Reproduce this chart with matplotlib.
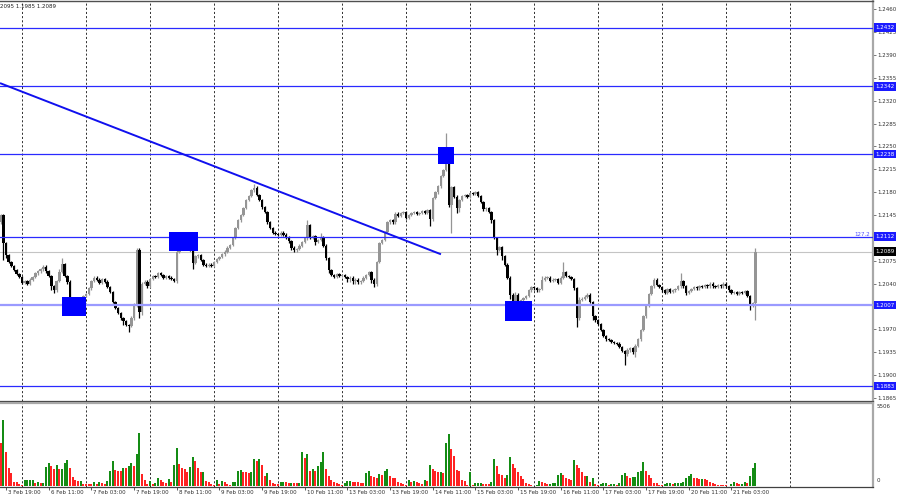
import matplotlib
matplotlib.use("Agg")
import matplotlib.pyplot as plt
import numpy as np
from matplotlib.transforms import blended_transform_factory, ScaledTranslation

plt.rcParams['lines.scale_dashes'] = False
plt.rcParams['font.family'] = ['DejaVu Sans']

# ---------------- data (GBPUSD H1) ----------------
first_index = -2          # bar index of the first visible candle (3 Feb 17:00)
first_open = 1.2134

closes = [
    1.2145, 1.2102, 1.2084, 1.2073, 1.2067, 1.2061, 1.2055, 1.2050, 1.2041, 1.2044,
    1.2040, 1.2046, 1.2050, 1.2056, 1.2059, 1.2062, 1.2066, 1.2059, 1.2052, 1.2036,
    1.2030, 1.2044, 1.2058, 1.2070, 1.2052, 1.2043, 1.2018, 1.2010, 1.2007, 1.2013,
    1.2018, 1.2021, 1.2024, 1.2033, 1.2044, 1.2049, 1.2046, 1.2041, 1.2047, 1.2043,
    1.2035, 1.2027, 1.2012, 1.2003, 1.1995, 1.1987, 1.1983, 1.1977, 1.1975, 1.1987,
    1.2007, 1.2092, 1.1997, 1.2040, 1.2043, 1.2036, 1.2047, 1.2052, 1.2050, 1.2056,
    1.2053, 1.2049, 1.2052, 1.2049, 1.2047, 1.2044, 1.2089, 1.2101, 1.2098, 1.2104,
    1.2095, 1.2092, 1.2072, 1.2082, 1.2084, 1.2076, 1.2069, 1.2067, 1.2069, 1.2067,
    1.2073, 1.2078, 1.2081, 1.2085, 1.2089, 1.2095, 1.2099, 1.2110, 1.2125, 1.2137,
    1.2145, 1.2156, 1.2168, 1.2174, 1.2183, 1.2186, 1.2176, 1.2168, 1.2157, 1.2150,
    1.2134, 1.2125, 1.2118, 1.2116, 1.2115, 1.2118, 1.2115, 1.2111, 1.2105, 1.2095,
    1.2092, 1.2093, 1.2098, 1.2104, 1.2110, 1.2130, 1.2110, 1.2113, 1.2104, 1.2107,
    1.2111, 1.2098, 1.2079, 1.2061, 1.2053, 1.2050, 1.2055, 1.2052, 1.2053, 1.2050,
    1.2047, 1.2049, 1.2044, 1.2046, 1.2043, 1.2044, 1.2049, 1.2053, 1.2058, 1.2046,
    1.2040, 1.2073, 1.2102, 1.2107, 1.2119, 1.2134, 1.2137, 1.2134, 1.2147, 1.2144,
    1.2148, 1.2150, 1.2141, 1.2145, 1.2148, 1.2150, 1.2147, 1.2148, 1.2151, 1.2148,
    1.2153, 1.2139, 1.2171, 1.2180, 1.2189, 1.2205, 1.2214, 1.2223, 1.2160, 1.2188,
    1.2173, 1.2156, 1.2168, 1.2174, 1.2176, 1.2173, 1.2179, 1.2177, 1.2180, 1.2174,
    1.2165, 1.2154, 1.2156, 1.2150, 1.2137, 1.2110, 1.2092, 1.2096, 1.2082, 1.2069,
    1.2049, 1.2023, 1.2000, 1.2023, 1.1995, 1.2015, 1.2018, 1.2021, 1.2030, 1.2035,
    1.2033, 1.2030, 1.2032, 1.2046, 1.2049, 1.2049, 1.2044, 1.2046, 1.2047, 1.2041,
    1.2049, 1.2058, 1.2052, 1.2050, 1.2047, 1.2033, 1.1987, 1.2015, 1.2017, 1.2020,
    1.2023, 1.2012, 1.1990, 1.1984, 1.1978, 1.1969, 1.1960, 1.1955, 1.1954, 1.1951,
    1.1949, 1.1948, 1.1943, 1.1937, 1.1932, 1.1938, 1.1941, 1.1935, 1.1945, 1.1955,
    1.1969, 1.1990, 1.2007, 1.2024, 1.2036, 1.2046, 1.2038, 1.2035, 1.2030, 1.2026,
    1.2032, 1.2027, 1.2030, 1.2032, 1.2036, 1.2044, 1.2036, 1.2026, 1.2029, 1.2032,
    1.2035, 1.2033, 1.2036, 1.2035, 1.2038, 1.2036, 1.2040, 1.2036, 1.2035, 1.2038,
    1.2036, 1.2040, 1.2036, 1.2030, 1.2026, 1.2027, 1.2024, 1.2027, 1.2026, 1.2029,
    1.2021, 1.2007, 1.2010, 1.2089,
]

upper_wick_pips = [
    2, 2, 2, 2, 2, 2, 2, 2, 2, 2,
    2, 2, 2, 2, 2, 2, 2, 2, 2, 2,
    2, 2, 4, 9, 2, 2, 2, 2, 2, 2,
    2, 2, 2, 2, 2, 2, 2, 2, 2, 2,
    2, 2, 2, 2, 2, 2, 2, 2, 2, 4,
    3, 3, 2, 2, 2, 2, 2, 2, 2, 2,
    2, 2, 2, 2, 2, 2, 3, 4, 2, 2,
    2, 2, 2, 2, 2, 2, 2, 2, 2, 2,
    2, 2, 2, 2, 2, 2, 2, 2, 2, 2,
    2, 2, 2, 2, 2, 6, 3, 2, 2, 2,
    2, 2, 2, 2, 2, 2, 2, 2, 2, 2,
    2, 2, 2, 2, 2, 8, 2, 2, 2, 2,
    6, 2, 2, 2, 2, 2, 2, 2, 2, 2,
    2, 2, 2, 2, 2, 2, 2, 2, 2, 2,
    2, 2, 2, 2, 2, 2, 2, 2, 2, 2,
    2, 2, 2, 2, 2, 2, 2, 2, 2, 2,
    2, 2, 2, 2, 2, 2, 2, 48, 2, 2,
    2, 2, 2, 2, 2, 2, 2, 2, 2, 2,
    2, 2, 2, 2, 2, 2, 2, 2, 2, 2,
    2, 2, 2, 4, 2, 2, 2, 2, 2, 2,
    2, 2, 2, 5, 2, 2, 2, 2, 2, 2,
    2, 15, 2, 2, 2, 2, 2, 4, 2, 2,
    2, 3, 2, 2, 2, 2, 2, 2, 2, 2,
    2, 2, 2, 2, 2, 4, 2, 2, 2, 2,
    2, 2, 2, 2, 2, 2, 2, 2, 2, 2,
    2, 2, 2, 2, 2, 12, 2, 2, 2, 2,
    2, 2, 2, 2, 2, 2, 2, 2, 2, 2,
    2, 2, 2, 2, 2, 2, 2, 2, 2, 2,
    2, 2, 2, 6,
]

lower_wick_pips = [
    2, 25, 4, 2, 2, 2, 2, 2, 2, 2,
    2, 2, 2, 2, 2, 2, 2, 2, 2, 5,
    5, 2, 2, 2, 2, 4, 6, 5, 8, 2,
    2, 2, 2, 2, 2, 2, 2, 2, 2, 2,
    2, 2, 2, 2, 2, 2, 6, 2, 9, 2,
    2, 2, 9, 5, 2, 2, 2, 2, 2, 2,
    2, 2, 2, 2, 2, 2, 3, 2, 2, 2,
    2, 2, 9, 2, 3, 2, 2, 2, 2, 2,
    2, 2, 2, 2, 2, 2, 2, 2, 2, 2,
    2, 2, 2, 2, 2, 2, 2, 2, 2, 2,
    2, 2, 2, 2, 2, 2, 2, 2, 2, 4,
    4, 4, 2, 2, 2, 3, 2, 2, 5, 2,
    2, 2, 2, 4, 2, 2, 2, 2, 2, 2,
    4, 4, 4, 4, 4, 4, 2, 2, 2, 5,
    5, 3, 2, 2, 2, 2, 2, 2, 2, 2,
    2, 2, 2, 2, 2, 2, 2, 2, 2, 2,
    2, 10, 3, 2, 2, 2, 2, 2, 3, 42,
    2, 8, 6, 2, 2, 2, 2, 2, 2, 2,
    2, 2, 2, 2, 4, 2, 8, 2, 5, 2,
    2, 6, 13, 2, 6, 2, 2, 2, 2, 2,
    2, 2, 2, 2, 2, 2, 2, 2, 2, 2,
    2, 2, 2, 2, 2, 2, 13, 2, 2, 2,
    2, 2, 5, 2, 2, 2, 2, 2, 2, 2,
    2, 2, 2, 2, 16, 2, 2, 2, 8, 2,
    2, 2, 2, 2, 2, 2, 2, 2, 2, 2,
    2, 2, 2, 2, 2, 2, 2, 4, 2, 2,
    2, 2, 2, 2, 2, 2, 2, 2, 2, 2,
    2, 2, 2, 2, 2, 2, 2, 2, 2, 2,
    2, 8, 2, 25,
]

volumes = [
    2850, 4350, 2230, 1220, 860, 265, 243, 155, 88, 376,
    380, 390, 420, 200, 290, 200, 210, 1260, 1550, 1300,
    1150, 1370, 1100, 1130, 1520, 1700, 1215, 600, 420, 330,
    340, 155, 150, 140, 130, 240, 155, 290, 200, 155,
    310, 970, 1635, 1080, 1015, 970, 1215, 1170, 1350, 1525,
    1300, 2145, 3515, 775, 420, 155, 330, 155, 200, 510,
    375, 290, 200, 485, 245, 1390, 2540, 1435, 1170, 1105,
    930, 1260, 1920, 1635, 1215, 930, 940, 330, 245, 135,
    90, 420, 155, 330, 245, 110, 66, 245, 290, 995,
    1080, 950, 905, 890, 930, 1790, 1635, 1810, 1370, 640,
    860, 375, 220, 135, 110, 245, 250, 240, 220, 230,
    200, 175, 200, 2230, 1835, 2100, 995, 1130, 970, 1300,
    1570, 2230, 1105, 685, 420, 265, 200, 155, 66, 200,
    330, 340, 290, 280, 245, 200, 190, 860, 1015, 665,
    620, 550, 820, 750, 1015, 1150, 665, 510, 500, 245,
    200, 110, 66, 375, 245, 310, 290, 175, 155, 420,
    330, 1390, 1130, 995, 905, 915, 860, 2850, 3470, 2455,
    2010, 1040, 1015, 420, 330, 90, 905, 90, 200, 220,
    230, 155, 150, 110, 245, 1790, 1350, 775, 750, 530,
    730, 1945, 1435, 1170, 905, 640, 465, 175, 155, 66,
    22, 90, 310, 290, 200, 110, 120, 200, 220, 705,
    885, 730, 510, 485, 420, 1700, 1370, 1170, 905, 665,
    685, 290, 550, 110, 66, 110, 220, 230, 90, 155,
    160, 90, 200, 705, 840, 665, 550, 620, 630, 905,
    1015, 1570, 1015, 705, 510, 220, 175, 90, 45, 110,
    175, 180, 135, 200, 205, 210, 290, 510, 665, 775,
    550, 540, 465, 485, 440, 420, 245, 175, 110, 66,
    45, 40, 35, 30, 110, 245, 200, 155, 160, 265,
    200, 640, 1170, 1525,
]

time_labels = ["3 Feb 19:00", "6 Feb 11:00", "7 Feb 03:00", "7 Feb 19:00",
               "8 Feb 11:00", "9 Feb 03:00", "9 Feb 19:00", "10 Feb 11:00",
               "13 Feb 03:00", "13 Feb 19:00", "14 Feb 11:00", "15 Feb 03:00",
               "15 Feb 19:00", "16 Feb 11:00", "17 Feb 03:00", "17 Feb 19:00",
               "20 Feb 11:00", "21 Feb 03:00"]
time_label_bars = [0, 16, 32, 48, 64, 80, 96, 112, 128, 144, 160, 176,
                   192, 208, 224, 240, 256, 272]

# price-scale ticks; 1.2110 and 1.2005 sit under level tags and are not shown
price_ticks = [1.2460, 1.2425, 1.2390, 1.2355, 1.2320, 1.2285, 1.2250, 1.2215,
               1.2180, 1.2145, 1.2110, 1.2075, 1.2040, 1.2005, 1.1970, 1.1935,
               1.1900, 1.1865]
hidden_ticks = [1.2110, 1.2005]
levels = [1.2432, 1.2342, 1.2238, 1.2112, 1.2007, 1.1883]
bid_price = 1.2089
fib_level = 1.2112
fib_text = "127.2"
trend_bars = [-2.25, 163.1]
trend_prices = [1.2347, 1.2085]
# marker rectangles: (bar from, bar to, price low, price high)
zones = [(21.1, 30.0, 1.1990, 1.2020), (61.1, 72.0, 1.2090, 1.2119),
         (162.0, 168.0, 1.2223, 1.2249), (187.0, 197.1, 1.1983, 1.2013)]
header_text = "2095 1.1985 1.2089"
volume_max_label = "5506"
volume_zero_label = "0"

# ---------------- figure ----------------
W, H = 900, 500
fig = plt.figure(figsize=(9, 5), dpi=100, facecolor='white')
ax = fig.add_axes([0, 1 - 401 / H, 873 / W, 400 / H])
axv = fig.add_axes([0, 1 - 487 / H, 873 / W, 84 / H])

x = np.arange(first_index, first_index + len(closes))
c = np.array(closes)
o = np.concatenate([[first_open], c[:-1]])
hi = np.maximum(o, c) + np.array(upper_wick_pips) * 0.0001
lo = np.minimum(o, c) - np.array(lower_wick_pips) * 0.0001
up = c >= o
bull_col, bear_col = '#959595', '#000000'
cols = np.where(up, bull_col, bear_col)

xlim = (-2.25, 325.1)
ylim = (1.18604, 1.24727)

# grid (vertical dotted)
grid_bars = np.arange(6, 300, 24)
for a in (ax, axv):
    for g in grid_bars:
        a.axvline(g, color='#303030', lw=0.7, ls=(0, (1.5, 1.5)), zorder=0.5)

# candles
ax.vlines(x, lo, hi, colors=cols, lw=0.9, zorder=2)
body_h = np.maximum(np.abs(c - o), 0.00014)
ax.bar(x, body_h, bottom=np.minimum(o, c), width=0.88, color=cols,
       edgecolor='none', zorder=3)

# horizontal levels
for lv in levels:
    if abs(lv - 1.2007) < 1e-6:
        ax.axhline(lv, color='#9a9aff', lw=1.6, zorder=4)
    else:
        ax.axhline(lv, color='#2a2aff', lw=0.9, zorder=4)
ax.axhline(bid_price, color='#c4c4c4', lw=0.8, zorder=1.5)

# trendline
ax.plot(trend_bars, trend_prices, color='#1010ee', lw=1.4, zorder=5,
        solid_capstyle='butt')

# zones
for b0, b1, p0, p1 in zones:
    ax.add_patch(plt.Rectangle((b0, p0), b1 - b0, p1 - p0, facecolor='#0000ff',
                               edgecolor='none', zorder=6))

ax.set_xlim(*xlim)
ax.set_ylim(*ylim)
ax.set_xticks([])
ax.yaxis.tick_right()
ax.set_yticks(price_ticks)
ax.set_yticklabels(["" if any(abs(p - h) < 1e-6 for h in hidden_ticks)
                    else f"{p:.4f}" for p in price_ticks])
ax.tick_params(axis='y', length=2, width=0.6, color='#606060', pad=1.2,
               labelsize=4, labelcolor='#303030')
ax.spines['left'].set_visible(False)
ax.spines['top'].set_color('#505050')
ax.spines['top'].set_linewidth(1.0)
ax.spines['bottom'].set_color('#404040')
ax.spines['bottom'].set_linewidth(0.9)
ax.spines['right'].set_color('#a8a8a8')
ax.spines['right'].set_linewidth(1.6)

# right-side price tags
tag_tr = blended_transform_factory(ax.transAxes, ax.transData) + \
    ScaledTranslation(2.5 / 100, 0, fig.dpi_scale_trans)
for lv in levels:
    ax.text(1.0, lv, f"{lv:.4f}", transform=tag_tr, ha='left', va='center',
            fontsize=4, color='white', clip_on=False, zorder=10,
            bbox=dict(boxstyle='square,pad=0.3', fc='#1a1aff', ec='none'))
ax.text(1.0, bid_price, f"{bid_price:.4f}", transform=tag_tr, ha='left',
        va='center', fontsize=4, color='white', clip_on=False, zorder=10,
        bbox=dict(boxstyle='square,pad=0.3', fc='#000000', ec='none'))

# fib label
ax.text(870 / 873, fib_level + 0.0004, fib_text,
        transform=blended_transform_factory(ax.transAxes, ax.transData),
        ha='right', va='center', fontsize=4, color='#5050ff', zorder=7)

# header
ax.text(0.0, (401 - 7) / 400, header_text, transform=ax.transAxes,
        ha='left', va='center', fontsize=4, color='#202020', zorder=7)

# ---------------- volume panel ----------------
v = np.array(volumes, dtype=float)
prev = np.concatenate([[v[0]], v[:-1]])
vcols = np.where(v > prev, '#148c14', '#ff2222')
axv.bar(x, v, width=0.8, color=vcols, edgecolor='none', zorder=2)
axv.set_xlim(*xlim)
axv.set_ylim(-66, 5506)
axv.set_yticks([])
axv.spines['left'].set_visible(False)
axv.spines['top'].set_color('#a8a8a8')
axv.spines['top'].set_linewidth(1.6)
axv.spines['bottom'].set_color('#404040')
axv.spines['bottom'].set_linewidth(0.9)
axv.spines['right'].set_color('#a8a8a8')
axv.spines['right'].set_linewidth(1.6)

vtr = axv.transAxes + ScaledTranslation(4 / 100, 0, fig.dpi_scale_trans)
axv.text(1.0, (487 - 407) / 84, volume_max_label, transform=vtr, ha='left',
         va='center', fontsize=4, color='#303030', clip_on=False)
axv.text(1.0, (487 - 481) / 84, volume_zero_label, transform=vtr, ha='left',
         va='center', fontsize=4, color='#303030', clip_on=False)

axv.set_xticks(time_label_bars)
axv.set_xticklabels([])
axv.tick_params(axis='x', length=2, width=0.6, color='#404040')
lab_tr = blended_transform_factory(axv.transData, axv.transAxes) + \
    ScaledTranslation(2 / 100, 0, fig.dpi_scale_trans)
for b, s in zip(time_label_bars, time_labels):
    axv.text(b, -(492 - 487) / 84, s, transform=lab_tr, ha='left', va='center',
             fontsize=4, color='#303030', clip_on=False)

fig.savefig("out.png", dpi=100, facecolor='white')
